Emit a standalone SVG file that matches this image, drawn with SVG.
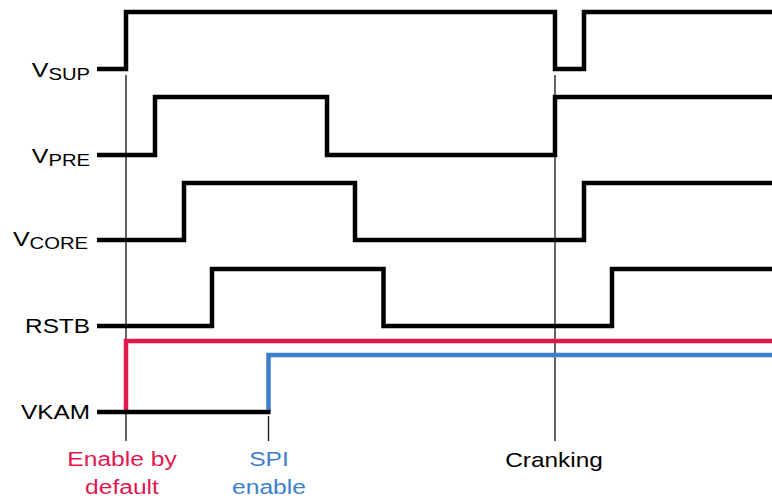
<svg xmlns="http://www.w3.org/2000/svg" width="772" height="499" viewBox="0 0 772 499">
  <style>
    .bg { fill: #ffffff; }
    .guide { stroke: #222222; stroke-width: 1.4; fill: none; }
    .sig { stroke: #000000; stroke-width: 4.5; fill: none; stroke-linejoin: miter; stroke-linecap: butt; }
    .red { stroke: #E2184D; stroke-width: 4.5; fill: none; stroke-linejoin: miter; }
    .blue { stroke: #3D7FCC; stroke-width: 4.5; fill: none; stroke-linejoin: miter; }
    .lbl { font-family: "Liberation Sans", Arial, sans-serif; font-size: 21px; fill: #000000; text-anchor: end; }
    .sub { font-size: 17px; }
    .note { font-family: "Liberation Sans", Arial, sans-serif; font-size: 20px; text-anchor: middle; }
  </style>
  <rect class="bg" x="0" y="0" width="772" height="499"/>

  <g id="connectors">
    <line class="guide" x1="126" y1="75" x2="126" y2="441"/>
    <line class="guide" x1="555" y1="75" x2="555" y2="441"/>
    <line class="guide" x1="268.5" y1="416" x2="268.5" y2="441"/>
  </g>

  <g id="vsup">
    <path class="sig" d="M97,69 H126 V12 H555 V69 H584 V12 H772"/>
    <text class="lbl" transform="translate(90,77) scale(1.19,1)"><tspan>V</tspan><tspan class="sub" dy="3">SUP</tspan></text>
  </g>

  <g id="vpre">
    <path class="sig" d="M97,155 H155 V97 H327 V155 H555 V97 H772"/>
    <text class="lbl" transform="translate(90,163) scale(1.19,1)"><tspan>V</tspan><tspan class="sub" dy="3">PRE</tspan></text>
  </g>

  <g id="vcore">
    <path class="sig" d="M97,240 H184 V183 H355 V240 H584 V183 H772"/>
    <text class="lbl" transform="translate(88,246) scale(1.19,1)"><tspan>V</tspan><tspan class="sub" dy="3">CORE</tspan></text>
  </g>

  <g id="rstb">
    <path class="sig" d="M97,326 H212 V269 H383.5 V326 H612 V269 H772"/>
    <text class="lbl" transform="translate(90,333) scale(1.16,1)">RSTB</text>
  </g>

  <g id="vkam">
    <path class="red" d="M126,412 V341 H772"/>
    <path class="blue" d="M268.5,412 V355 H772"/>
    <path class="sig" d="M97,412 H270.5"/>
    <text class="lbl" transform="translate(90,419) scale(1.16,1)">VKAM</text>
  </g>

  <g id="enable-by-default">
    <text class="note" fill="#E2184D" transform="translate(122,466) scale(1.23,1)">Enable by</text>
    <text class="note" fill="#E2184D" transform="translate(122,494) scale(1.23,1)">default</text>
  </g>

  <g id="spi-enable">
    <text class="note" fill="#3D7FCC" transform="translate(269,466) scale(1.23,1)">SPI</text>
    <text class="note" fill="#3D7FCC" transform="translate(269,494) scale(1.23,1)">enable</text>
  </g>

  <g id="cranking">
    <text class="note" fill="#000000" transform="translate(554,467) scale(1.22,1)">Cranking</text>
  </g>
</svg>
